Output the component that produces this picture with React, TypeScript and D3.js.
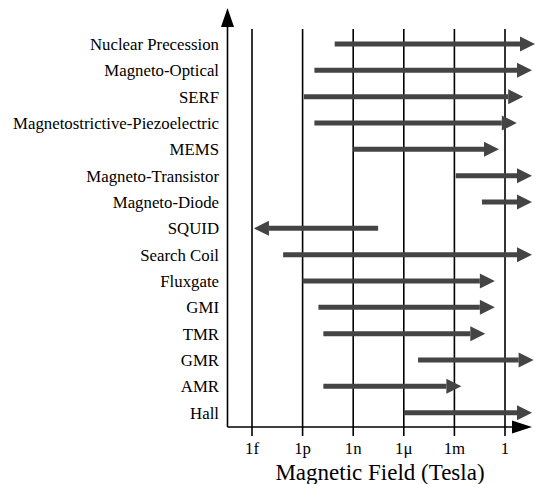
import React from "react";
import * as d3 from "d3";

// sensor ranges in tesla, arrows go from `rangeFrom` to `rangeTo`
const sensors = [
  "Nuclear Precession",
  "Magneto-Optical",
  "SERF",
  "Magnetostrictive-Piezoelectric",
  "MEMS",
  "Magneto-Transistor",
  "Magneto-Diode",
  "SQUID",
  "Search Coil",
  "Fluxgate",
  "GMI",
  "TMR",
  "GMR",
  "AMR",
  "Hall",
];
const rangeFrom = [8e-11, 5e-12, 1.2e-12, 5e-12, 1e-9, 1.2e-3, 4.3e-2, 3e-8, 7e-14, 1e-12, 8.7e-12, 1.7e-11, 7e-6, 1.7e-11, 1e-6];
const rangeTo = [60, 40, 12, 5, 0.44, 40, 40, 1.3e-15, 40, 0.25, 0.25, 0.068, 50, 2.6e-3, 40];

const tickValues = [1e-15, 1e-12, 1e-9, 1e-6, 1e-3, 1];
const tickLabels = ["1f", "1p", "1n", "1\u03bc", "1m", "1"];

const W = 535;
const H = 484;
const FONT = "'Liberation Serif', 'Times New Roman', serif";

export default function App() {
  const x = d3.scaleLog().domain([1e-15, 1]).range([252, 505]);
  const y = d3.scalePoint<string>().domain(sensors).range([44, 412.7]);

  const axisX = 227.5;
  const axisY = 427;
  const gridTop = 29;
  const gridBottom = 436;

  const headLen = 15;
  const headHalf = 7.5;
  const arrowColor = "#444";

  return (
    <svg
      width={W}
      height={H}
      style={{ position: "absolute", left: 0, top: 0, background: "#fff" }}
      fontFamily={FONT}
    >
      {/* vertical decade lines */}
      {tickValues.map((t, i) => (
        <g key={i}>
          <line x1={x(t)} x2={x(t)} y1={gridTop} y2={gridBottom} stroke="#000" strokeWidth={1.6} />
          <text x={x(t)} y={454} textAnchor="middle" fontSize={16.8} fill="#000">
            {tickLabels[i]}
          </text>
        </g>
      ))}

      {/* axes */}
      <line x1={axisX} x2={axisX} y1={26} y2={axisY} stroke="#000" strokeWidth={1.6} />
      <path d={`M${axisX},8 L${axisX - 6.5},27 L${axisX + 6.5},27 Z`} fill="#000" />
      <line x1={axisX} x2={513} y1={axisY} y2={axisY} stroke="#000" strokeWidth={1.6} />
      <path d={`M532,${axisY} L512,${axisY - 6.5} L512,${axisY + 6.5} Z`} fill="#000" />

      {/* sensor labels and range arrows */}
      {sensors.map((s, i) => {
        const yy = y(s) as number;
        const x0 = x(rangeFrom[i]);
        const x1 = x(rangeTo[i]);
        const dir = x1 > x0 ? 1 : -1;
        const base = x1 - dir * headLen;
        return (
          <g key={s}>
            <text x={219} y={yy} dy="0.35em" textAnchor="end" fontSize={16.8} fill="#000">
              {s}
            </text>
            <line x1={x0} x2={base} y1={yy} y2={yy} stroke={arrowColor} strokeWidth={5} />
            <path
              d={`M${x1},${yy} L${base},${yy - headHalf} L${base},${yy + headHalf} Z`}
              fill={arrowColor}
            />
          </g>
        );
      })}

      <text x={380} y={480} textAnchor="middle" fontSize={23} fill="#000">
        Magnetic Field (Tesla)
      </text>
    </svg>
  );
}
